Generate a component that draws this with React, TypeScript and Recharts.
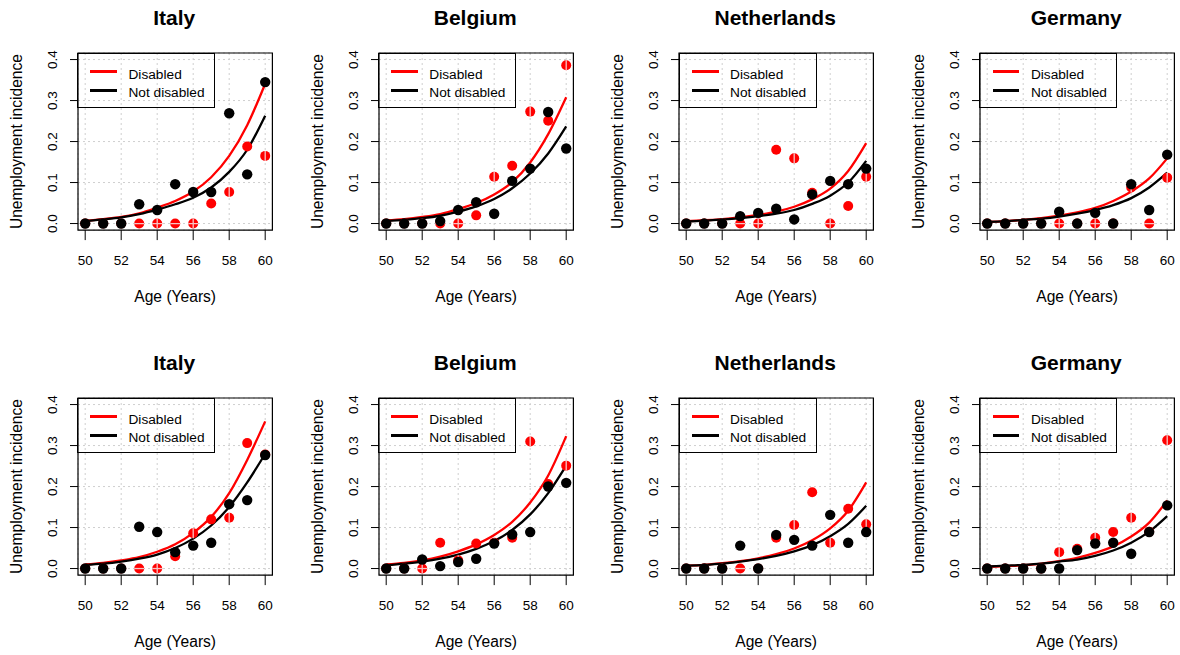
import React from 'react';
import {
  ComposedChart,
  Scatter,
  Line,
  XAxis,
  YAxis,
  CartesianGrid,
  ReferenceArea,
  Legend,
  Customized,
} from 'recharts';

const FONT = '"Liberation Sans", Arial, Helvetica, sans-serif';

const AGES = [50, 51, 52, 53, 54, 55, 56, 57, 58, 59, 60];
const X_TICKS = [50, 52, 54, 56, 58, 60];
const Y_TICKS = [0, 0.1, 0.2, 0.3, 0.4];
const X_DOMAIN = [49.6, 60.4];
const Y_DOMAIN = [-0.016, 0.416];
const LEGEND_LABELS = ['Disabled', 'Not disabled'];
const X_TITLE = 'Age (Years)';
const Y_TITLE = 'Unemployment incidence';

// ---- top row ----
const IT1_TITLE = 'Italy';
const IT1_ND = [0, 0, 0, 0.047, 0.033, 0.096, 0.077, 0.077, 0.269, 0.12, 0.345];
const IT1_DIS = [0, 0, 0, 0, 0, 0, 0, 0.049, 0.077, 0.188, 0.165];
const IT1_DIS_FIT = [0.007, 0.011, 0.016, 0.025, 0.039, 0.055, 0.078, 0.113, 0.165, 0.24, 0.341];
const IT1_ND_FIT = [0.006, 0.01, 0.015, 0.023, 0.034, 0.047, 0.063, 0.088, 0.126, 0.18, 0.263];

const BE1_TITLE = 'Belgium';
const BE1_ND = [0, 0, 0, 0.006, 0.033, 0.052, 0.024, 0.104, 0.134, 0.272, 0.183];
const BE1_DIS = [0, 0, 0, 0, 0, 0.02, 0.114, 0.141, 0.273, 0.251, 0.386];
const BE1_DIS_FIT = [0.008, 0.011, 0.016, 0.023, 0.035, 0.05, 0.071, 0.101, 0.149, 0.218, 0.308];
const BE1_ND_FIT = [0.006, 0.009, 0.013, 0.019, 0.029, 0.042, 0.06, 0.086, 0.122, 0.171, 0.237];

const NL1_TITLE = 'Netherlands';
const NL1_ND = [0, 0, 0, 0.018, 0.026, 0.036, 0.01, 0.071, 0.104, 0.096, 0.134];
const NL1_DIS = [0, 0, 0, 0, 0, 0.18, 0.159, 0.075, 0, 0.043, 0.114];
const NL1_DIS_FIT = [0.006, 0.008, 0.011, 0.015, 0.021, 0.029, 0.041, 0.059, 0.085, 0.128, 0.196];
const NL1_ND_FIT = [0.005, 0.007, 0.01, 0.013, 0.018, 0.024, 0.033, 0.048, 0.068, 0.1, 0.153];

const DE1_TITLE = 'Germany';
const DE1_ND = [0, 0, 0, 0, 0.029, 0, 0.026, 0, 0.096, 0.033, 0.168];
const DE1_DIS = [0, 0, 0, 0, 0, 0, 0, 0, 0.088, 0, 0.112];
const DE1_DIS_FIT = [0.004, 0.006, 0.009, 0.013, 0.019, 0.027, 0.038, 0.055, 0.078, 0.11, 0.159];
const DE1_ND_FIT = [0.004, 0.006, 0.009, 0.012, 0.017, 0.024, 0.033, 0.045, 0.062, 0.088, 0.124];

// ---- bottom row ----
const IT2_TITLE = 'Italy';
const IT2_ND = [0, 0, 0, 0.102, 0.089, 0.04, 0.056, 0.063, 0.157, 0.167, 0.277];
const IT2_DIS = [0, 0, 0, 0, 0, 0.03, 0.086, 0.12, 0.124, 0.306, 0.278];
const IT2_DIS_FIT = [0.01, 0.014, 0.02, 0.028, 0.041, 0.059, 0.087, 0.126, 0.184, 0.265, 0.359];
const IT2_ND_FIT = [0.009, 0.012, 0.017, 0.024, 0.034, 0.05, 0.073, 0.105, 0.15, 0.21, 0.28];

const BE2_TITLE = 'Belgium';
const BE2_ND = [0, 0, 0.022, 0.006, 0.016, 0.024, 0.061, 0.083, 0.089, 0.2, 0.209];
const BE2_DIS = [0, 0, 0, 0.063, 0.02, 0.061, 0.063, 0.075, 0.31, 0.206, 0.251];
const BE2_DIS_FIT = [0.01, 0.014, 0.02, 0.029, 0.042, 0.059, 0.082, 0.114, 0.161, 0.227, 0.323];
const BE2_ND_FIT = [0.008, 0.012, 0.017, 0.024, 0.034, 0.048, 0.067, 0.094, 0.132, 0.184, 0.251];

const NL2_TITLE = 'Netherlands';
const NL2_ND = [0, 0, 0, 0.056, 0, 0.082, 0.07, 0.056, 0.131, 0.063, 0.089];
const NL2_DIS = [0, 0, 0, 0, 0, 0.075, 0.106, 0.186, 0.063, 0.146, 0.108];
const NL2_DIS_FIT = [0.007, 0.009, 0.013, 0.018, 0.025, 0.035, 0.049, 0.069, 0.098, 0.141, 0.21];
const NL2_ND_FIT = [0.007, 0.009, 0.012, 0.017, 0.023, 0.031, 0.042, 0.057, 0.079, 0.109, 0.153];

const DE2_TITLE = 'Germany';
const DE2_ND = [0, 0, 0, 0, 0, 0.045, 0.061, 0.063, 0.036, 0.089, 0.154];
const DE2_DIS = [0, 0, 0, 0, 0.04, 0.048, 0.075, 0.089, 0.124, 0.09, 0.313];
const DE2_DIS_FIT = [0.004, 0.006, 0.008, 0.012, 0.018, 0.026, 0.038, 0.054, 0.078, 0.112, 0.166];
const DE2_ND_FIT = [0.005, 0.007, 0.009, 0.012, 0.017, 0.022, 0.031, 0.044, 0.063, 0.09, 0.128];

const PANELS = [
  { title: IT1_TITLE, nd: IT1_ND, dis: IT1_DIS, disFit: IT1_DIS_FIT, ndFit: IT1_ND_FIT, col: 0, row: 0 },
  { title: BE1_TITLE, nd: BE1_ND, dis: BE1_DIS, disFit: BE1_DIS_FIT, ndFit: BE1_ND_FIT, col: 1, row: 0 },
  { title: NL1_TITLE, nd: NL1_ND, dis: NL1_DIS, disFit: NL1_DIS_FIT, ndFit: NL1_ND_FIT, col: 2, row: 0 },
  { title: DE1_TITLE, nd: DE1_ND, dis: DE1_DIS, disFit: DE1_DIS_FIT, ndFit: DE1_ND_FIT, col: 3, row: 0 },
  { title: IT2_TITLE, nd: IT2_ND, dis: IT2_DIS, disFit: IT2_DIS_FIT, ndFit: IT2_ND_FIT, col: 0, row: 1 },
  { title: BE2_TITLE, nd: BE2_ND, dis: BE2_DIS, disFit: BE2_DIS_FIT, ndFit: BE2_ND_FIT, col: 1, row: 1 },
  { title: NL2_TITLE, nd: NL2_ND, dis: NL2_DIS, disFit: NL2_DIS_FIT, ndFit: NL2_ND_FIT, col: 2, row: 1 },
  { title: DE2_TITLE, nd: DE2_ND, dis: DE2_DIS, disFit: DE2_DIS_FIT, ndFit: DE2_ND_FIT, col: 3, row: 1 },
];

// ---- layout ----
const Y_AXIS_W = 70;
const M_TOP = 50;
const PLOT_W = 194.4;
const PLOT_H = 177.1;
const CHART_W = 270;
const CHART_H = 305;
const PLOT_BOTTOM = M_TOP + PLOT_H;
const BOX_LEFT0 = 77.8;
const BOX_TOP0 = 53.4;
const COL_STEP = 300.8;
const ROW_STEP = 345;

const RED = '#ff0000';

const RedDot = (props: any) => {
  const { cx, cy, payload } = props;
  if (cx == null || cy == null || !payload) return null;
  const r = 5;
  const v = payload.dis;
  const onH = Math.abs(v * 10 - Math.round(v * 10)) < 0.06;
  const onV = payload.age % 2 === 0;
  return (
    <g>
      <circle cx={cx} cy={cy} r={r} fill={RED} />
      {onH && (
        <line x1={cx - r} x2={cx + r} y1={cy} y2={cy} stroke="#f7c4c4" strokeWidth={1.3} />
      )}
      {onV && (
        <line x1={cx} x2={cx} y1={cy - r} y2={cy + r} stroke="#f7c4c4" strokeWidth={1.3} />
      )}
    </g>
  );
};

const BlackDot = (props: any) => {
  const { cx, cy } = props;
  if (cx == null || cy == null) return null;
  return <circle cx={cx} cy={cy} r={5.2} fill="#000" />;
};

const XTick = (props: any) => (
  <text
    x={props.x}
    y={PLOT_BOTTOM + 34.5}
    textAnchor="middle"
    fontSize={13.5}
    fontFamily={FONT}
    fill="#000"
  >
    {props.payload.value}
  </text>
);

const YTick = (props: any) => {
  const x = Y_AXIS_W - 25.5;
  return (
    <text
      x={x}
      y={props.y}
      dy="0.35em"
      transform={`rotate(-90 ${x} ${props.y})`}
      textAnchor="middle"
      fontSize={13.5}
      fontFamily={FONT}
      fill="#000"
    >
      {Number(props.payload.value).toFixed(1)}
    </text>
  );
};

const LegendBox = () => (
  <div
    style={{
      position: 'relative',
      width: 138,
      height: 55,
      border: '1px solid #000',
      boxSizing: 'border-box',
      fontFamily: FONT,
      fontSize: 13.7,
      color: '#000',
    }}
  >
    <div style={{ position: 'absolute', left: 12.3, top: 16.1, width: 26.7, height: 2.7, background: RED }} />
    <div style={{ position: 'absolute', left: 12.3, top: 35.1, width: 26.7, height: 2.7, background: '#000' }} />
    <span style={{ position: 'absolute', left: 50.5, top: 13.4, lineHeight: '13.7px', whiteSpace: 'nowrap' }}>
      {LEGEND_LABELS[0]}
    </span>
    <span style={{ position: 'absolute', left: 50.5, top: 31.4, lineHeight: '13.7px', whiteSpace: 'nowrap' }}>
      {LEGEND_LABELS[1]}
    </span>
  </div>
);

const Panel = ({ p }: { p: any }) => {
  const data = AGES.map((age, i) => ({
    age,
    dis: p.dis[i],
    nd: p.nd[i],
    disFit: p.disFit[i],
    ndFit: p.ndFit[i],
  }));
  const left = BOX_LEFT0 + p.col * COL_STEP - Y_AXIS_W;
  const top = BOX_TOP0 + p.row * ROW_STEP - M_TOP;
  const cxPlot = Y_AXIS_W + PLOT_W / 2;
  const cyPlot = M_TOP + PLOT_H / 2;
  const yTitleX = Y_AXIS_W - 55.5;
  return (
    <div style={{ position: 'absolute', left, top, width: CHART_W, height: CHART_H }}>
      <ComposedChart
        width={CHART_W}
        height={CHART_H}
        data={data}
        margin={{ top: M_TOP, right: CHART_W - Y_AXIS_W - PLOT_W, bottom: 0, left: 0 }}
      >
        <CartesianGrid stroke="#cfcfcf" strokeDasharray="2 3" strokeWidth={1} />
        <XAxis
          dataKey="age"
          type="number"
          domain={X_DOMAIN}
          ticks={X_TICKS}
          allowDataOverflow
          height={CHART_H - M_TOP - PLOT_H}
          axisLine={false}
          tickLine={{ stroke: '#000', strokeWidth: 1 }}
          tickSize={10}
          tick={<XTick />}
          interval={0}
        />
        <YAxis
          type="number"
          domain={Y_DOMAIN}
          ticks={Y_TICKS}
          allowDataOverflow
          width={Y_AXIS_W}
          axisLine={false}
          tickLine={{ stroke: '#000', strokeWidth: 1 }}
          tickSize={8}
          tick={<YTick />}
          interval={0}
        />
        <Scatter dataKey="dis" shape={<RedDot />} isAnimationActive={false} />
        <Scatter dataKey="nd" shape={<BlackDot />} isAnimationActive={false} />
        <Line
          dataKey="disFit"
          type="monotone"
          stroke={RED}
          strokeWidth={2.3}
          dot={false}
          activeDot={false}
          isAnimationActive={false}
        />
        <Line
          dataKey="ndFit"
          type="monotone"
          stroke="#000"
          strokeWidth={2.3}
          dot={false}
          activeDot={false}
          isAnimationActive={false}
        />
        <ReferenceArea
          x1={X_DOMAIN[0]}
          x2={X_DOMAIN[1]}
          y1={Y_DOMAIN[0]}
          y2={Y_DOMAIN[1]}
          fill="none"
          fillOpacity={0}
          stroke="#000"
          strokeWidth={1.2}
          strokeOpacity={1}
        />
        <Legend
          layout="horizontal"
          align="center"
          verticalAlign="middle"
          content={<LegendBox />}
          wrapperStyle={{ left: Y_AXIS_W - 0.8, top: M_TOP - 0.1, width: 138, height: 55 }}
        />
        <Customized
          component={() => (
            <g fontFamily={FONT} fill="#000">
              <text x={cxPlot - 1} y={M_TOP - 28} textAnchor="middle" fontSize={21} fontWeight="bold">
                {p.title}
              </text>
              <text x={cxPlot} y={PLOT_BOTTOM + 72} textAnchor="middle" fontSize={15.6}>
                {X_TITLE}
              </text>
              <text
                x={yTitleX}
                y={cyPlot}
                transform={`rotate(-90 ${yTitleX} ${cyPlot})`}
                textAnchor="middle"
                fontSize={15.6}
              >
                {Y_TITLE}
              </text>
            </g>
          )}
        />
      </ComposedChart>
    </div>
  );
}

export default function App() {
  return (
    <div
      style={{
        position: 'absolute',
        left: 0,
        top: 0,
        width: 1180,
        height: 655,
        background: '#fff',
        overflow: 'hidden',
      }}
    >
      {PANELS.map((p, i) => (
        <Panel key={i} p={p} />
      ))}
    </div>
  );
}
